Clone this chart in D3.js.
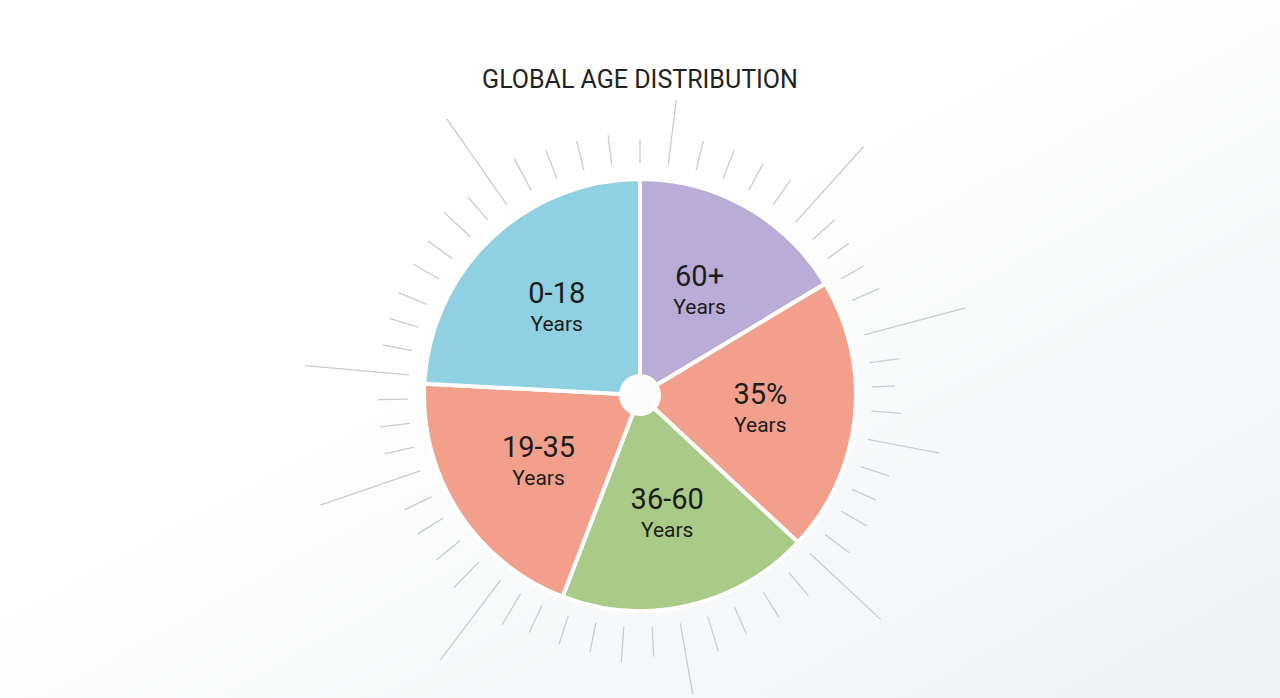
<!DOCTYPE html>
<html>
<head>
<script src="https://cdnjs.cloudflare.com/ajax/libs/d3/7.8.2/d3.min.js"></script>
<style>
	body { margin: 0; background: #fff; }
	svg { display: block; }
</style>
</head>
<body>
<svg id="canvas"></svg>
<script>
	// slices, clockwise from 12 o'clock (values in degrees)
	let labels = [ "60+", "35%", "36-60", "19-35", "0-18" ] ;
	let values = [ 59, 74, 68, 72, 87 ] ;
	let colors = [ "#b9acd6", "#f2a08c", "#a9cb87", "#f2a08c", "#8fd0e2" ] ;

	// decorative rays: angle (deg from north), inner and outer radius
	let rayAngles = [ 7, 14, 21, 28, 35, 42, 48, 54, 60, 66, 75, 82, 88, 94, 101, 108, 114, 120, 127, 133, 140, 148, 156, 163, 170, 177, 184, 191, 198, 205, 211, 217, 224, 231, 238, 244, 251, 257, 263, 269, 275, 281, 287, 293, 300, 306, 313, 319, 325, 332, 339, 346, 353, 0 ] ;
	let rayOuter  = [ 297, 262, 262, 262, 262, 334, 262, 258, 258, 262, 337, 262, 255, 262, 305, 262, 258, 262, 262, 329, 262, 262, 262, 268, 304, 262, 268, 262, 262, 262, 268, 332, 268, 262, 262, 262, 338, 262, 262, 262, 336, 262, 262, 262, 262, 262, 268, 262, 337, 268, 262, 262, 262, 255 ] ;
	let rayInner = 232 ;

	let geom = { width: 1280, height: 698, cx: 640, cy: 395, r: 216, hole: 19 } ;

	let svg = d3.select( "svg" )
		.attr( "width", geom.width )
		.attr( "height", geom.height ) ;

	let defs = svg.append( "defs" ) ;
	let grad = defs.append( "linearGradient" ).attr( "id", "bg" )
		.attr( "x1", "0" ).attr( "y1", "0" ).attr( "x2", "1" ).attr( "y2", "1" ) ;
	grad.append( "stop" ).attr( "offset", "0.4" ).attr( "stop-color", "#ffffff" ) ;
	grad.append( "stop" ).attr( "offset", "1" ).attr( "stop-color", "#eef1f3" ) ;
	svg.append( "rect" ).attr( "width", geom.width ).attr( "height", geom.height ).attr( "fill", "url(#bg)" ) ;

	svg.append( "text" )
		.attr( "x", geom.cx ).attr( "y", 88 )
		.attr( "text-anchor", "middle" )
		.attr( "font-family", "Roboto, sans-serif" )
		.attr( "font-size", 25 )
		.attr( "fill", "#222" )
		.text( "GLOBAL AGE DISTRIBUTION" ) ;

	let g = svg.append( "g" ).attr( "transform", "translate(" + geom.cx + "," + geom.cy + ")" ) ;

	let rad = d => d * Math.PI / 180 ;
	g.selectAll( "line.ray" )
		.data( rayAngles )
		.join( "line" )
		.attr( "class", "ray" )
		.attr( "x1", d => rayInner * Math.sin( rad(d) ) )
		.attr( "y1", d => -rayInner * Math.cos( rad(d) ) )
		.attr( "x2", (d,i) => rayOuter[i] * Math.sin( rad(d) ) )
		.attr( "y2", (d,i) => -rayOuter[i] * Math.cos( rad(d) ) )
		.attr( "stroke", "#c9cccf" )
		.attr( "stroke-width", 1.3 ) ;

	let pie = d3.pie().sort( null ).value( d => d ) ;
	let arcs = pie( values ) ;
	let arc = d3.arc().innerRadius( geom.hole ).outerRadius( geom.r ) ;
	let labelArc = d3.arc().innerRadius( geom.r * 0.56 ).outerRadius( geom.r * 0.56 ) ;

	g.selectAll( "path" )
		.data( arcs )
		.join( "path" )
		.attr( "d", arc )
		.attr( "fill", (d,i) => colors[i] )
		.attr( "stroke", "#fff" )
		.attr( "stroke-width", 4 ) ;

	let lab = g.selectAll( "g.lab" )
		.data( arcs )
		.join( "g" )
		.attr( "class", "lab" )
		.attr( "transform", d => "translate(" + labelArc.centroid( d ) + ")" )
		.attr( "font-family", "Roboto, sans-serif" )
		.attr( "text-anchor", "middle" )
		.attr( "fill", "#1c1c1c" ) ;
	lab.append( "text" ).attr( "y", -4 ).attr( "font-size", 29 ).text( (d,i) => labels[i] ) ;
	lab.append( "text" ).attr( "y", 24 ).attr( "font-size", 21 ).text( "Years" ) ;
</script>
</body>
</html>
